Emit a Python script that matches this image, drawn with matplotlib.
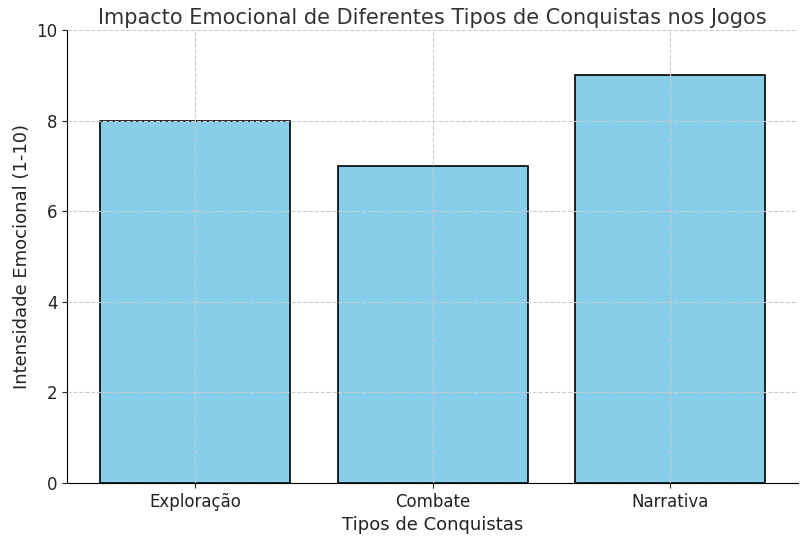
import matplotlib
matplotlib.use("Agg")
import matplotlib.pyplot as plt

categories = ["Exploração", "Combate", "Narrativa"]
values = [8, 7, 9]

fig = plt.figure(figsize=(8.12, 5.36), dpi=100)
ax = fig.add_axes([0.0825, 0.099, 0.9005, 0.845])
ax.bar(categories, values, color="skyblue", edgecolor="black", linewidth=1.2, zorder=1)
ax.set_ylim(0, 10)
ax.grid(True, linestyle="--", color="#cccccc", linewidth=0.8, zorder=3)
ax.set_axisbelow(False)
for s in ["top", "right"]:
    ax.spines[s].set_visible(False)
ax.tick_params(labelsize=12, colors="#222222")
ax.set_xlabel("Tipos de Conquistas", fontsize=13, color="#222222")
ax.set_ylabel("Intensidade Emocional (1-10)", fontsize=13, color="#222222")
ax.set_title("Impacto Emocional de Diferentes Tipos de Conquistas nos Jogos", fontsize=15, color="#333333", pad=4)
fig.savefig("out.png", dpi=100)
